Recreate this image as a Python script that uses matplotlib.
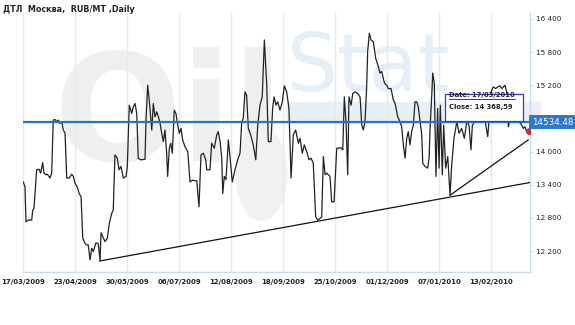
import matplotlib
matplotlib.use("Agg")
import matplotlib.pyplot as plt
from matplotlib.lines import Line2D
from matplotlib.patches import Rectangle, Ellipse
import matplotlib.transforms as mtransforms

# days since 17/03/2009 and close prices (RUB/MT)
days = [
    0, 1.2, 1.9, 3.6, 6.0, 6.7, 7.6, 9.5, 11.2, 12.4, 13.8, 14.7, 16.2, 17.1, 19.0, 20.2,
    21.3, 22.6, 23.8, 24.9, 26.1, 27.3, 28.5, 29.7, 30.9, 32.7, 34.4, 35.6, 36.8, 38.4,
    39.8, 41.1, 42.3, 43.9, 45.1, 46.2, 47.5, 48.7, 49.8, 51.7, 53.4, 54.6, 55.3, 56.5,
    58.1, 59.8, 61.2, 62.9, 64.0, 65.2, 66.9, 68.1, 69.5, 71.2, 73.1, 74.0, 75.4, 77.1,
    78.3, 79.5, 80.7, 81.8, 83.5, 86.6, 87.3, 88.5, 89.6, 91.4, 92.5, 93.7, 94.9, 96.1,
    97.3, 98.5, 99.6, 100.8, 102.0, 102.7, 103.9, 104.9, 106.0, 107.4, 108.6, 109.9,
    111.0, 112.2, 113.4, 115.0, 117.0, 118.6, 120.2, 123.4, 125.0, 126.4, 128.1, 129.8,
    130.5, 132.8, 134.0, 135.9, 137.6, 138.7, 140.0, 141.2, 141.9, 143.0, 144.2, 145.9,
    147.1, 148.7, 150.6, 152.5, 154.2, 155.4, 156.5, 157.7, 158.9, 160.1, 161.8, 163.6,
    165.4, 166.8, 168.4, 170.0, 171.5, 173.2, 174.3, 176.2, 177.4, 178.4, 179.8, 181.0,
    182.6, 184.3, 185.7, 187.4, 189.0, 190.5, 192.1, 193.8, 195.7, 196.9, 198.5, 199.9,
    201.6, 203.3, 204.7, 206.3, 208.0, 209.5, 211.1, 212.3, 213.5, 214.7, 215.9, 218.2,
    219.4, 221.1, 223.0, 226.0, 227.3, 228.4, 229.6, 230.8, 231.7, 233.2, 234.4, 236.0,
    237.9, 239.6, 240.8, 241.9, 243.1, 244.3, 245.0, 246.2, 247.4, 249.0, 250.7, 252.2,
    253.8, 255.0, 256.9, 258.6, 259.7, 261.6, 263.3, 264.5, 266.4, 268.0, 269.2, 270.4,
    271.6, 272.8, 273.9, 275.1, 276.3, 277.5, 278.7, 279.9, 281.0, 282.3, 283.5, 284.2,
    285.8, 287.7, 288.7, 289.4, 290.6, 291.3, 292.4, 293.6, 294.8, 295.8, 296.7, 298.1,
    299.1, 300.5, 302.0, 303.6, 304.8, 306.4, 308.4, 310.0, 311.9, 313.8, 315.5, 317.1,
    318.5, 319.5, 321.4, 323.7, 326.2, 328.5, 330.4, 331.3, 332.8, 334.4, 336.1, 337.5,
    339.1, 340.4, 341.5, 342.7, 343.9, 345.1, 346.3, 347.9, 349.3, 351.1, 352.7, 354.6,
    355.7, 356.9, 358.1, 359.8,
]
close = [
    13450, 13360, 12730, 12760, 12760, 12940, 12970, 13670, 13680, 13610, 13800, 13610,
    13580, 13590, 13520, 13610, 14570, 14580, 14540, 14570, 14510, 14540, 14390, 14330,
    13520, 13520, 13590, 13550, 13430, 13360, 13240, 13180, 12430, 12340, 12310, 12310,
    12040, 12250, 12190, 12350, 12330, 12020, 12530, 12460, 12370, 12430, 12700, 12880,
    12940, 13940, 13880, 13670, 13730, 13520, 13550, 13730, 14840, 14690, 14810, 14870,
    14690, 13880, 13850, 13860, 14570, 15200, 14930, 14390, 14870, 14630, 14720, 14630,
    14510, 14330, 14180, 14390, 13970, 13550, 14060, 14150, 13970, 14750, 14690, 14480,
    14330, 14420, 14210, 14090, 14000, 13450, 13480, 13470, 13000, 13940, 13970, 13850,
    13670, 13670, 14150, 14060, 14300, 14360, 14180, 13880, 13240, 13550, 13490, 14210,
    13880, 13450, 13670, 13850, 13970, 14540, 14600, 15080, 15020, 14420, 14300, 14120,
    13850, 14480, 14840, 14990, 16020, 15200, 14180, 14180, 14780, 14990, 14840, 14900,
    14750, 14900, 15190, 15080, 14780, 13520, 14300, 14390, 14150, 14240, 13970, 14120,
    14000, 13850, 13880, 13790, 12820, 12760, 12790, 12820, 13910, 13580, 13610, 13550,
    13090, 13090, 14060, 14070, 14030, 14990, 14540, 13580, 14990, 14840, 15050, 15080,
    15050, 14990, 14480, 14390, 14540, 15170, 15810, 16140, 16020, 15990, 15690, 15570,
    15420, 15450, 15240, 15200, 15140, 15140, 14930, 14870, 14630, 14540, 14450, 14120,
    13880, 14240, 14360, 14120, 14360, 14480, 14900, 14900, 14810, 14540, 14300, 13790,
    13730, 13700, 13880, 14420, 15020, 15420, 15240, 13550, 14780, 13700, 14840, 13580,
    14480, 13700, 13910, 13210, 13760, 14240, 14540, 14330, 14420, 14240, 14540, 14480,
    14030, 14480, 14540, 14600, 14630, 14570, 14270, 14540, 15080, 15170, 15140, 15170,
    15190, 15140, 15170, 15200, 15080, 14450, 14570, 14540, 14540, 14600, 14540, 14480,
    14420, 14450, 14360, 14368.59,
]

tick_days = [0, 37, 74, 111, 148, 185, 222, 259, 296, 333]
tick_labels = ["17/03/2009", "23/04/2009", "30/05/2009", "06/07/2009", "12/08/2009",
               "18/09/2009", "25/10/2009", "01/12/2009", "07/01/2010", "13/02/2010"]
price_ticks = [12200, 12800, 13400, 14000, 15200, 15800, 16400]
price_tick_labels = ["12 200", "12 800", "13 400", "14 000", "15 200", "15 800", "16 400"]

level = 14534.48
support_days = [54.6, 360.5]
support_values = [12020, 13440]
support2_days = [303.6, 359.2]
support2_values = [13210, 14210]

grid_color = "#e1eaf4"
axis_color = "#c9dbef"

fig = plt.figure(figsize=(5.75, 3.25), dpi=100)
ax = fig.add_axes([23.3 / 575, 53 / 325, (530 - 23.3) / 575, 259 / 325])
ax.set_xlim(0, 360.5)
ax.set_ylim(11820, 16508)

# watermark
ax.text(0.06, 0.43, "Oil", transform=ax.transAxes, fontsize=108, fontweight="bold",
        color="#efefef", zorder=0)
ax.add_patch(Ellipse((0.47, 0.38), 0.1, 0.36, transform=ax.transAxes,
                     color="#f1f1f1", zorder=0))
ax.text(0.52, 0.7, "Stat", transform=ax.transAxes, fontsize=58,
        color="#e6eef8", zorder=0)
ax.add_patch(Rectangle((0.52, 0.58), 0.5, 0.075, transform=ax.transAxes,
                       color="#e9eff7", zorder=0, clip_on=False))

ax.set_xticks(tick_days)
ax.set_xticklabels(tick_labels)
ax.grid(axis="x", color=grid_color, linewidth=1, zorder=0.5)
ax.tick_params(axis="x", length=0, pad=5, labelsize=5, colors="#222222")
for label in ax.get_xticklabels():
    label.set_fontweight("bold")

ax.yaxis.tick_right()
ax.set_yticks(price_ticks)
ax.set_yticklabels(price_tick_labels)
ax.tick_params(axis="y", length=2.5, width=0.8, color=axis_color, pad=2,
               labelsize=5.2, labelcolor="#222222")

for side in ["top", "left"]:
    ax.spines[side].set_visible(False)
for side in ["right", "bottom"]:
    ax.spines[side].set_color(axis_color)
    ax.spines[side].set_linewidth(1)

ax.plot(days, close, color="#222222", linewidth=0.9, zorder=3)
ax.plot(support_days, support_values, color="#111111", linewidth=0.9, zorder=3)
ax.plot(support2_days, support2_values, color="#111111", linewidth=0.9, zorder=3)
ax.axhline(level, color="#1f74d6", linewidth=1.6, zorder=4)
ax.plot(days[-1], close[-1], "o", color="#d42a2a", markersize=4, zorder=6)

blend = mtransforms.blended_transform_factory(ax.transAxes, ax.transData)
ax.text(1.004, level, f"{level:.2f}", transform=blend, ha="left", va="center",
        fontsize=6.3, color="white", zorder=7, clip_on=False,
        bbox=dict(boxstyle="square,pad=0.3", facecolor="#2a78d2", edgecolor="none"))

# tooltip
ax.add_patch(Rectangle((300.1, 14553), 55.5, 489, facecolor="white",
                       edgecolor="#3535d8", linewidth=0.9, zorder=8))
date_text = ax.text(303, 15015, "Date: 17/03/2010", fontsize=4.9, fontweight="bold",
                    va="center", color="#222222", zorder=9)
ax.text(303, 14800, f"Close: 14 368,59", fontsize=4.9, fontweight="bold",
        va="center", color="#222222", zorder=9)

fig.text(3 / 575, 1 - 10 / 325, "ДТЛ  Москва,  RUB/MT ,Daily", fontsize=5.8,
         fontweight="bold", va="center", ha="left", color="#222222")

fig.canvas.draw()
box = date_text.get_window_extent()
fig.add_artist(Line2D([box.x0, box.x1], [box.y0 - 0.5, box.y0 - 0.5],
                      transform=None, color="#222222", linewidth=0.6, zorder=10))

fig.savefig("out.png", dpi=100)
